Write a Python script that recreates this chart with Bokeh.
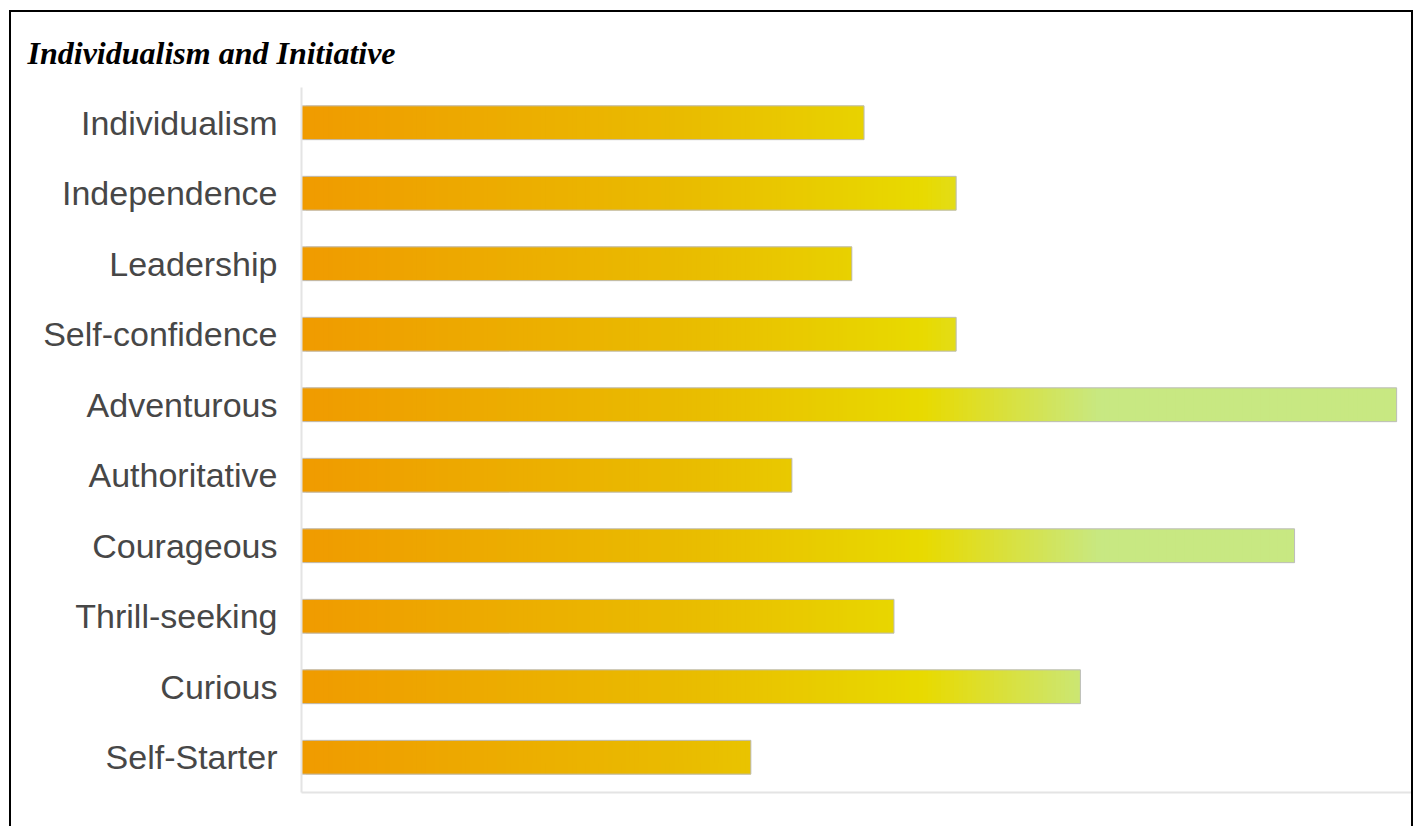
import numpy as np
from bokeh.plotting import figure
from bokeh.models import FactorRange, Range1d, ColumnDataSource
from bokeh.embed import file_html
from bokeh.resources import INLINE

# ---- data ----
categories = ["Individualism", "Independence", "Leadership", "Self-confidence",
              "Adventurous", "Authoritative", "Courageous", "Thrill-seeking",
              "Curious", "Self-Starter"]
scores = [50.7, 59.0, 49.6, 59.0, 98.7, 44.2, 89.5, 53.4, 70.2, 40.5]
title_text = "Individualism and Initiative"

# ---- style: horizontal colour gradient along the value axis ----
grad_pos = [0, 35, 56, 72, 101]
grad_rgb = [(240, 155, 0), (233, 188, 0), (232, 218, 0), (200, 232, 130), (200, 232, 130)]


def grad_color(x):
    r = np.interp(x, grad_pos, [c[0] for c in grad_rgb])
    g = np.interp(x, grad_pos, [c[1] for c in grad_rgb])
    b = np.interp(x, grad_pos, [c[2] for c in grad_rgb])
    return ["#%02x%02x%02x" % (int(round(a)), int(round(bb)), int(round(c))) for a, bb, c in zip(r, g, b)]


step = 0.4
sl_y, sl_l, sl_r, sl_c = [], [], [], []
for cat, v in zip(categories, scores):
    lefts = np.arange(0, v, step)
    rights = np.minimum(lefts + 2 * step, v)
    mids = np.minimum(lefts + step / 2, v)
    sl_y += [cat] * len(lefts)
    sl_l += list(lefts)
    sl_r += list(rights)
    sl_c += grad_color(mids)

slices = ColumnDataSource(dict(y=sl_y, left=sl_l, right=sl_r, color=sl_c))
bars = ColumnDataSource(dict(y=categories, right=scores))

p = figure(
    y_range=FactorRange(factors=list(reversed(categories))),
    x_range=Range1d(0, 100.4),
    width=1404, height=816,
    output_backend="svg", toolbar_location=None,
    min_border_left=290, min_border_right=0,
    min_border_top=75, min_border_bottom=36,
    styles={"border-top": "2px solid #000", "border-left": "2px solid #000",
            "border-right": "2px solid #000", "margin-left": "9px", "margin-top": "10px"},
)
p.outline_line_color = None
p.grid.visible = False

p.hbar(y="y", left="left", right="right", height=0.48, source=slices,
       fill_color="color", line_color=None)
p.hbar(y="y", left=0, right="right", height=0.48, source=bars,
       fill_color=None, line_color="#bdbdbd", line_width=1)

p.title.text = title_text
p.title.text_font = "Liberation Serif"
p.title.text_font_style = "bold italic"
p.title.text_font_size = "32px"
p.title.text_color = "#000000"
p.title.align = "left"
p.title.offset = -274
p.title.standoff = 33

yax = p.yaxis[0]
yax.axis_line_color = "#e4e4e4"
yax.axis_line_width = 2
yax.major_tick_line_color = None
yax.minor_tick_line_color = None
yax.major_label_standoff = 18
yax.major_label_text_font = "Liberation Sans"
yax.major_label_text_font_size = "34px"
yax.major_label_text_color = "#474747"

xax = p.xaxis[0]
xax.axis_line_color = "#e4e4e4"
xax.axis_line_width = 2
xax.major_tick_line_color = None
xax.minor_tick_line_color = None
xax.major_label_text_font_size = "0px"
xax.major_label_text_color = None

open("out.html", "w").write(file_html(p, INLINE))
